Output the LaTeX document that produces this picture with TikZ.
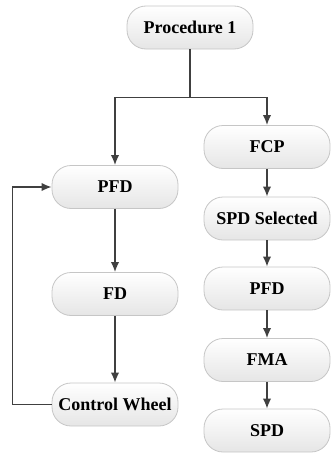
\documentclass[tikz,border=0pt]{standalone}
\usepackage{fontspec}
\setmainfont{Liberation Serif}
\usetikzlibrary{arrows.meta}
\tikzset{
    stepbox/.style={draw=gray!45, line width=0.8pt, rounded corners=19pt, top color=white, bottom color=gray!20,
        minimum width=126pt, minimum height=43pt, font=\fontsize{18}{20}\selectfont\bfseries, inner sep=0pt},
    flow/.style={draw=black!75, line width=1.6pt, -{Latex[length=10pt,width=8.5pt]}}
}
\begin{document}
\begin{tikzpicture}[x=1pt,y=-1pt]
    \useasboundingbox (0,0) rectangle (330,455);
    
    %Start
    \node[stepbox] (proc) at (190,27.5) {Procedure 1};
    %Left branch
    \node[stepbox] (pfdA) at (115,187) {PFD};
    \node[stepbox] (fd) at (115,294) {FD};
    \node[stepbox] (cw) at (115,404.5) {Control Wheel};
    %Right branch
    \node[stepbox] (fcp) at (267,147) {FCP};
    \node[stepbox] (spds) at (267,218.5) {SPD Selected};
    \node[stepbox] (pfdB) at (267,288.5) {PFD};
    \node[stepbox] (fma) at (267,360) {FMA};
    \node[stepbox] (spd) at (267,430.5) {SPD};
    %Split
    \draw[flow,-] (proc.south) -- ++(0,48) coordinate (split);
    \draw[flow] (split) -| (pfdA.north);
    \draw[flow] (split) -| (fcp.north);
    %Left chain
    \draw[flow] (pfdA) -- (fd);
    \draw[flow] (fd) -- (cw);
    \draw[flow] (cw.west) -- ++(-39,0) |- (pfdA.west);
    %Right chain
    \draw[flow] (fcp) -- (spds);
    \draw[flow] (spds) -- (pfdB);
    \draw[flow] (pfdB) -- (fma);
    \draw[flow] (fma) -- (spd);
\end{tikzpicture}
\end{document}
